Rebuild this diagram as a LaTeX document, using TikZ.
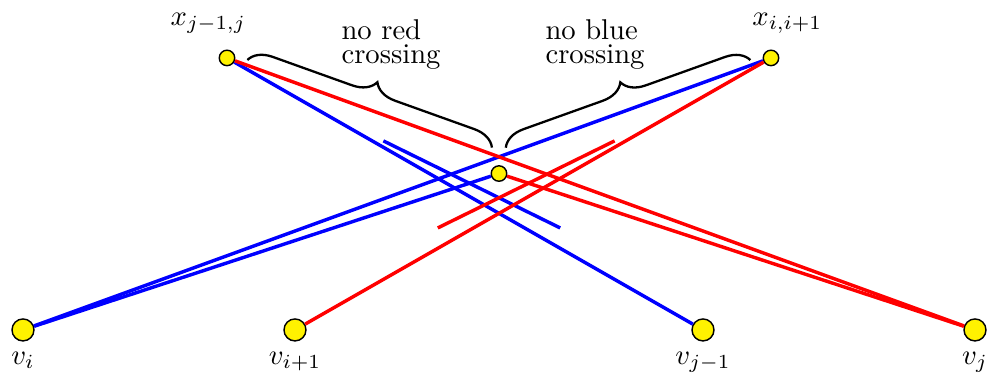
\documentclass[tikz,border=0pt]{standalone}
\usepackage{amsmath}
\usetikzlibrary{decorations.pathreplacing}

\begin{document}
\begin{tikzpicture}[
    x=1.67cm, y=1.67cm,
    vertex/.style={circle, draw, fill=yellow, line width=0.5pt, minimum size=2.7mm, inner sep=0pt},
    split/.style={circle, draw, fill=yellow, line width=0.5pt, minimum size=1.9mm, inner sep=0pt},
    blueedge/.style={blue, line width=1.2pt},
    rededge/.style={red, line width=1.2pt},
    bracket/.style={decorate, decoration={brace, amplitude=8pt}, thick},
    note/.style={align=left, anchor=west}
]
\useasboundingbox (-0.169,-0.331) rectangle (7.125,2.426);

% BOTTOM ROW
\node[vertex, label=below:$v_i$] (vi) at (0,0) {};
\node[vertex, label=below:$v_{i+1}$] (vi1) at (2,0) {};
\node[vertex, label=below:$v_{j-1}$] (vj1) at (5,0) {};
\node[vertex, label=below:$v_j$] (vj) at (7,0) {};

% TOP ROW (split points)
\node[split, label={[xshift=-2.3mm, label distance=2pt]above:$x_{j-1,j}$}] (xl) at (1.5,2) {};
\node[split, label={[xshift=2mm, label distance=2pt]above:$x_{i,i+1}$}] (xr) at (5.5,2) {};

% Middle point
\node[split] (mid) at (3.5,1.15) {};

% Free ends of the short segments
\coordinate (bs) at (2.65,1.39);
\coordinate (be) at (3.95,0.75);
\coordinate (rs) at (3.05,0.75);
\coordinate (re) at (4.35,1.39);

% BLUE EDGES
\draw[blueedge] (xl) -- (vj1);
\draw[blueedge] (xr) -- (vi);
\draw[blueedge] (mid) -- (vi);
\draw[blueedge] (bs) -- (be);

% RED EDGES
\draw[rededge] (xl) -- (vj);
\draw[rededge] (xr) -- (vi1);
\draw[rededge] (mid) -- (vj);
\draw[rededge] (rs) -- (re);

% Braces and their notes
\coordinate (lb1) at (1.65,1.985);
\coordinate (lb2) at (3.45,1.34);
\coordinate (rb1) at (3.55,1.34);
\coordinate (rb2) at (5.35,1.985);
\draw[bracket] (lb1) -- (lb2);
\draw[bracket] (rb1) -- (rb2);

\node[note] (nored) at (2.268,2.096) {no red\\[-3.6pt]crossing};
\node[note] (noblue) at (3.768,2.096) {no blue\\[-3.6pt]crossing};

\end{tikzpicture}
\end{document}
